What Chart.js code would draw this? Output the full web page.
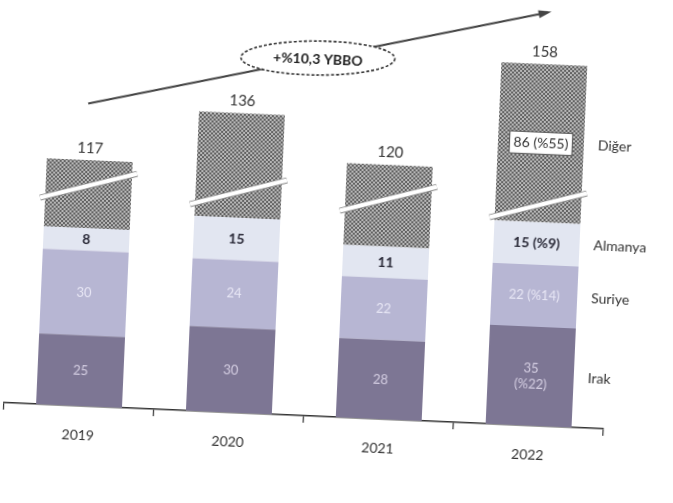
<!DOCTYPE html>
<html><head><meta charset="utf-8">
<script src="https://cdn.jsdelivr.net/npm/chart.js@4"></script>
<style>
html,body{margin:0;padding:0;background:#fff;overflow:hidden;width:673px;height:503px;}
#wrap{width:673px;height:503px;transform:rotate(2.5deg);transform-origin:50% 50%;}
canvas{display:block;}
</style></head><body>
<div id="wrap"><canvas id="c" width="673" height="503"></canvas></div>
<script>
const years = ['2019', '2020', '2021', '2022'];
const irak = [25, 30, 28, 35];
const suriye = [30, 24, 22, 22];
const almanya = [8, 15, 11, 15];
const diger = [54, 67, 59, 86];
const totals = [117, 136, 120, 158];
const irakLabels = ['25', '30', '28', '35\n(%22)'];
const suriyeLabels = ['30', '24', '22', '22 (%14)'];
const almanyaLabels = ['8', '15', '11', '15 (%9)'];
const digerLabels = ['', '', '', '86 (%55)'];
const seriesNames = ['Irak', 'Suriye', 'Almanya', 'Diğer'];
const growthLabel = '+%10,3 YBBO';
const hiddenByBreak = 30;   // units removed by the axis break in "Diğer"
const breakLevel = 78;      // displayed level where the break line sits

const FONT = "Lato, 'Open Sans', 'DejaVu Sans', sans-serif";

const ctx0 = document.getElementById('c').getContext('2d');
const pattern = ctx0.createPattern((() => {
  const p = document.createElement('canvas');
  p.width = 4; p.height = 4;
  const g = p.getContext('2d');
  g.fillStyle = '#b8b8b8'; g.fillRect(0, 0, 4, 4);
  g.fillStyle = '#626262'; g.fillRect(0, 0, 2, 2); g.fillRect(2, 2, 2, 2);
  return p;
})(), 'repeat');

function drawText(ctx, str, x, y, font, color, lh) {
  const lines = str.split('\n');
  ctx.font = font; ctx.fillStyle = color;
  ctx.textAlign = 'center'; ctx.textBaseline = 'middle';
  const start = y - (lines.length - 1) * lh / 2;
  lines.forEach((l, i) => ctx.fillText(l, x, start + i * lh));
}

const overlay = {
  id: 'overlay',
  afterDatasetsDraw(chart) {
    const ctx = chart.ctx, ys = chart.scales.y, xs = chart.scales.x;
    const metas = [0, 1, 2, 3].map(i => chart.getDatasetMeta(i).data);
    ctx.save();
    // break lines
    metas[3].forEach(el => {
      const yb = ys.getPixelForValue(breakLevel);
      const half = el.width / 2 + 5;
      ctx.lineCap = 'butt';
      ctx.strokeStyle = '#8c8c8c'; ctx.lineWidth = 6;
      ctx.beginPath(); ctx.moveTo(el.x - half, yb + 14); ctx.lineTo(el.x + half, yb - 14); ctx.stroke();
      ctx.strokeStyle = '#ffffff'; ctx.lineWidth = 4;
      ctx.beginPath(); ctx.moveTo(el.x - half, yb + 14); ctx.lineTo(el.x + half, yb - 14); ctx.stroke();
    });
    const mid = el => (el.y + el.base) / 2;
    // segment labels
    metas[0].forEach((el, i) => drawText(ctx, irakLabels[i], el.x, mid(el), '13px ' + FONT, 'rgba(232,226,244,0.8)', 16));
    metas[1].forEach((el, i) => drawText(ctx, suriyeLabels[i], el.x, mid(el), '13px ' + FONT, 'rgba(240,238,250,0.85)', 16));
    metas[2].forEach((el, i) => drawText(ctx, almanyaLabels[i], el.x, mid(el), 'bold 14px ' + FONT, '#2a2a38', 16));
    metas[3].forEach((el, i) => {
      if (!digerLabels[i]) return;
      const cy = mid(el);
      ctx.font = '14px ' + FONT;
      const w = ctx.measureText(digerLabels[i]).width + 8;
      ctx.fillStyle = '#fff'; ctx.fillRect(el.x - w / 2, cy - 11, w, 22);
      ctx.strokeStyle = '#555'; ctx.lineWidth = 1; ctx.strokeRect(el.x - w / 2, cy - 11, w, 22);
      drawText(ctx, digerLabels[i], el.x, cy, '14px ' + FONT, '#333', 16);
    });
    // totals
    metas[3].forEach((el, i) => drawText(ctx, String(totals[i]), el.x, el.y - 12, '15px ' + FONT, '#333', 16));
    // series names at right of last bar
    const last = metas.map(m => m[m.length - 1]);
    last.forEach((el, k) => {
      ctx.font = '14px ' + FONT; ctx.fillStyle = '#333';
      ctx.textAlign = 'left'; ctx.textBaseline = 'middle';
      ctx.fillText(seriesNames[k], el.x + el.width / 2 + 14, mid(el));
    });
    // growth arrow
    const x1 = xs.getPixelForValue(0) - 4, y1 = ys.getPixelForValue(107);
    const x2 = xs.getPixelForValue(years.length - 1) + 1, y2 = ys.getPixelForValue(146.3);
    ctx.strokeStyle = '#444'; ctx.lineWidth = 2;
    ctx.beginPath(); ctx.moveTo(x1, y1); ctx.lineTo(x2, y2); ctx.stroke();
    const ang = Math.atan2(y2 - y1, x2 - x1);
    ctx.fillStyle = '#444';
    ctx.beginPath();
    ctx.moveTo(x2 + 4 * Math.cos(ang), y2 + 4 * Math.sin(ang));
    ctx.lineTo(x2 - 9 * Math.cos(ang) - 4 * Math.sin(ang), y2 - 9 * Math.sin(ang) + 4 * Math.cos(ang));
    ctx.lineTo(x2 - 9 * Math.cos(ang) + 4 * Math.sin(ang), y2 - 9 * Math.sin(ang) - 4 * Math.cos(ang));
    ctx.closePath(); ctx.fill();
    // ellipse label
    const cx = (x1 + x2) / 2, cy = (y1 + y2) / 2;
    ctx.beginPath(); ctx.ellipse(cx, cy, 77, 17, ang * 0.15, 0, Math.PI * 2);
    ctx.fillStyle = '#fff'; ctx.fill();
    ctx.setLineDash([3, 2]); ctx.strokeStyle = '#333'; ctx.lineWidth = 1.6; ctx.stroke();
    ctx.setLineDash([]);
    drawText(ctx, growthLabel, cx, cy + 1, 'bold 14px ' + FONT, '#222', 16);
    ctx.restore();
  }
};

new Chart(document.getElementById('c'), {
  type: 'bar',
  data: {
    labels: years,
    datasets: [
      { label: 'Irak', data: irak, backgroundColor: '#7d7694' },
      { label: 'Suriye', data: suriye, backgroundColor: '#b7b6d3' },
      { label: 'Almanya', data: almanya, backgroundColor: '#e2e6f1' },
      { label: 'Diğer', data: diger.map(v => v - hiddenByBreak), backgroundColor: pattern }
    ]
  },
  options: {
    responsive: false,
    animation: false,
    layout: { padding: { left: 11, right: 62, top: 10, bottom: 0 } },
    plugins: { legend: { display: false }, tooltip: { enabled: false } },
    datasets: { bar: { barPercentage: 0.573, categoryPercentage: 1 } },
    scales: {
      x: {
        stacked: true,
        grid: { display: true, drawOnChartArea: false, drawTicks: true, tickLength: 7, color: '#333', lineWidth: 1.2 },
        border: { display: true, color: '#333', width: 1.5 },
        ticks: { font: { family: FONT, size: 14 }, color: '#333', padding: 14 },
        afterFit(s) { s.height = 86; }
      },
      y: { stacked: true, display: false, min: 0, max: 144 }
    }
  },
  plugins: [overlay]
});
</script>
</body></html>
